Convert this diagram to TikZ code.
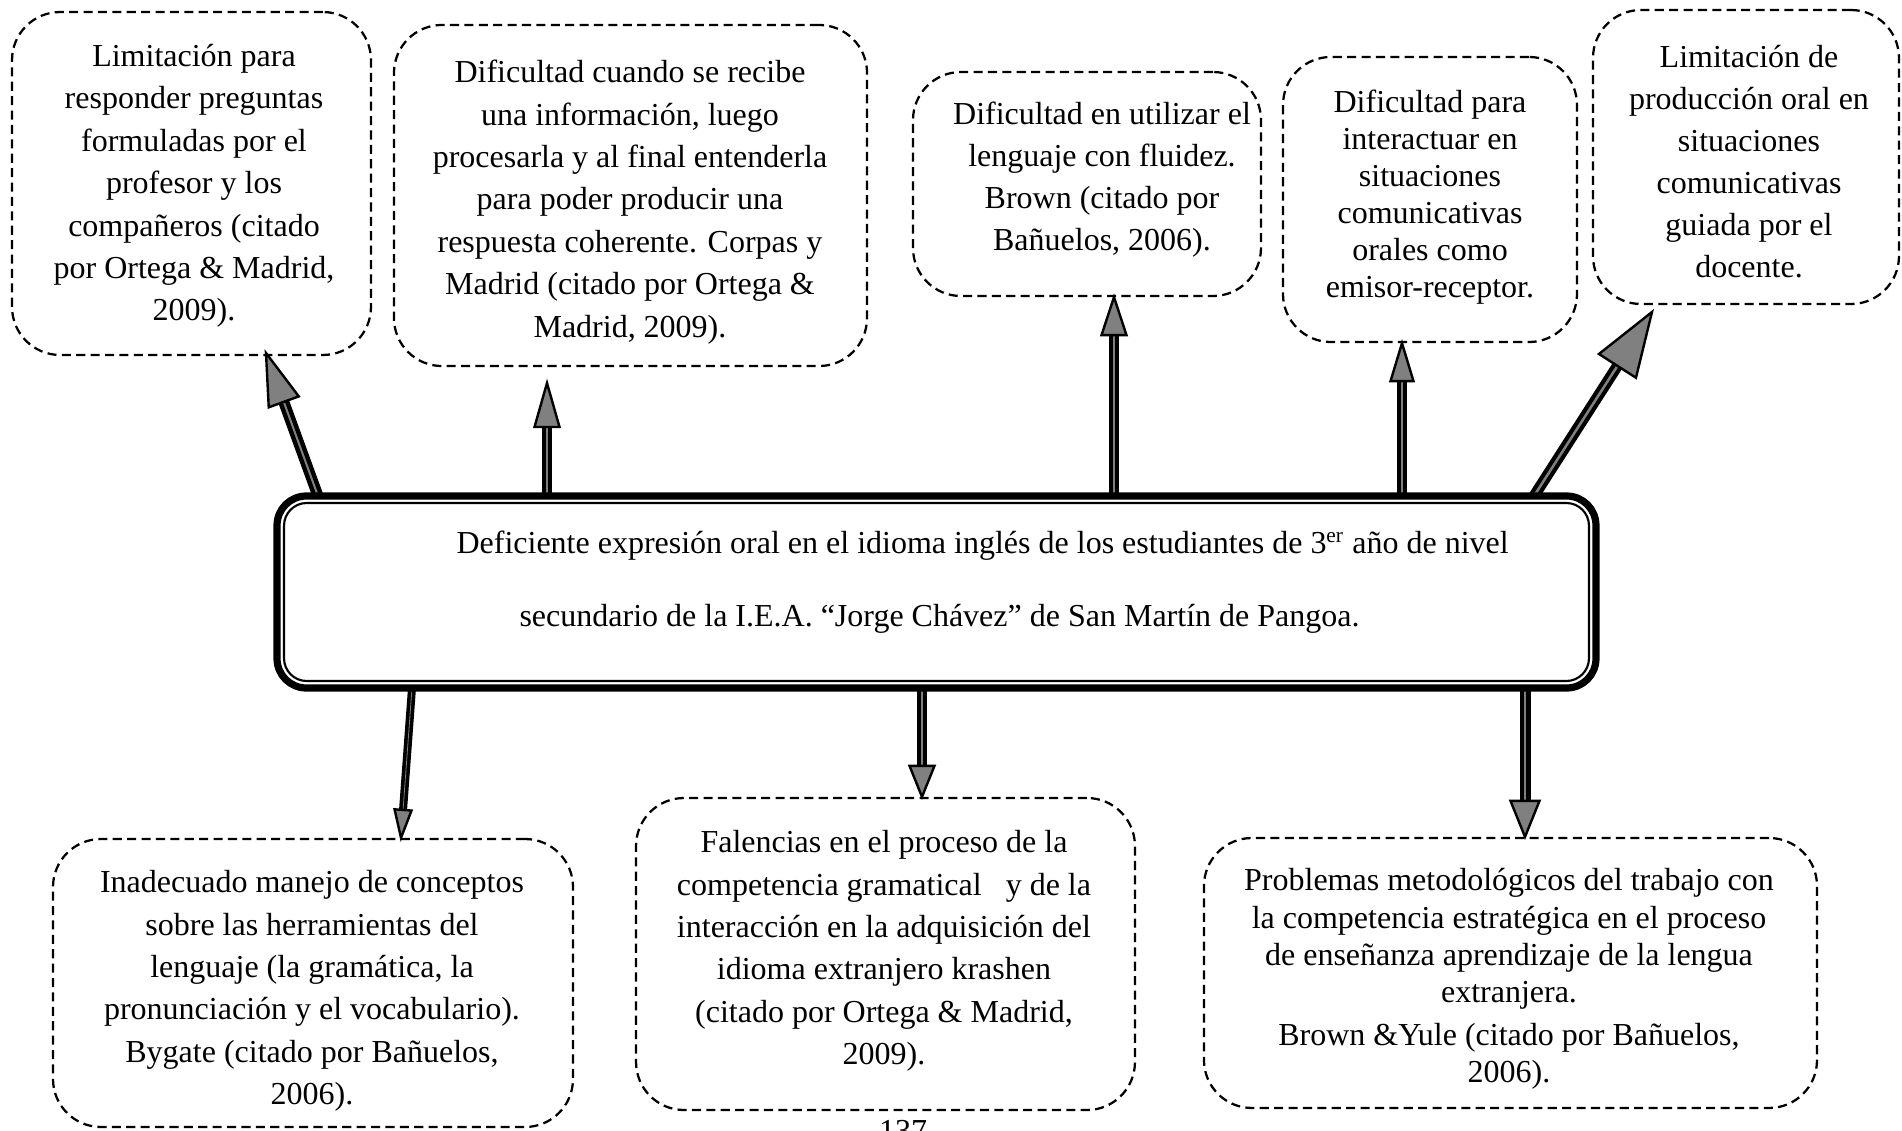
\documentclass[tikz,border=0pt]{standalone}
\usepackage{fontspec}
\setmainfont{Liberation Serif}
\usetikzlibrary{calc}
% block arrow: #1 from, #2 tip, #3 shaft width px, #4 head length px, #5 head half width px, #6 inner grey width px
\newcommand\blkarrow[6]{%
  \coordinate (hb) at ($(#2)!#4*0.375pt!(#1)$);
  \draw[line width=#3*0.375pt, black] (#1) -- (hb);
  \draw[line width=#6*0.375pt, gray] (#1) -- (hb);
  \draw[line width=0.9pt, fill=gray, line join=miter] (#2) -- ($(hb)!#5*0.375pt!90:(#2)$) -- ($(hb)!#5*0.375pt!-90:(#2)$) -- cycle;
}
\tikzset{
  dbox/.style={draw, rectangle, line width=0.85pt, dash pattern=on 3.4pt off 2pt, rounded corners=18pt, inner sep=0pt},
  txt/.style={align=center, inner sep=0pt, font=\fontsize{12}{#1}\selectfont},
  mtxt/.style={anchor=west, inner sep=0pt, font=\fontsize{12}{14}\selectfont},
}
\begin{document}
\begin{tikzpicture}[x=0.375pt, y=-0.375pt]
\useasboundingbox (0,0) rectangle (1902,1131);

% dashed boxes
\node[dbox, minimum width=134.6pt, minimum height=128.6pt] (b1) at (191.5,183.5) {};
\node[dbox, minimum width=177.4pt, minimum height=127.9pt] (b2) at (630.5,195.5) {};
\node[dbox, minimum width=130.5pt, minimum height=84pt]    (b3) at (1087,184) {};
\node[dbox, minimum width=110.25pt, minimum height=106.9pt] (b4) at (1430,199.5) {};
\node[dbox, minimum width=114.75pt, minimum height=110.25pt] (b5) at (1746,157) {};
\node[dbox, minimum width=195pt, minimum height=108pt]   (b6) at (313,983) {};
\node[dbox, minimum width=187.1pt, minimum height=117pt] (b7) at (885.5,954) {};
\node[dbox, minimum width=229.9pt, minimum height=101.25pt] (b8) at (1510.5,973) {};

% texts
\node[txt=15.9pt] (t1) at (194,186) {Limitación para\\responder preguntas\\formuladas por el\\profesor y los\\compañeros (citado\\por Ortega \& Madrid,\\2009).};
\node[txt=15.9pt] (t2) at (630,202) {Dificultad cuando se recibe\\una información, luego\\procesarla y al final entenderla\\para poder producir una\\respuesta coherente. Corpas y\\Madrid (citado por Ortega \&\\Madrid, 2009).};
\node[txt=15.75pt] (t3) at (1102,180) {Dificultad en utilizar el\\lenguaje con fluidez.\\Brown (citado por\\Bañuelos, 2006).};
\node[txt=13.9pt] (t4) at (1430,197) {Dificultad para\\interactuar en\\situaciones\\comunicativas\\orales como\\emisor-receptor.};
\node[txt=15.75pt] (t5) at (1749,162) {Limitación de\\producción oral en\\situaciones\\comunicativas\\guiada por el\\docente.};
\node[txt=15.9pt] (t6) at (312,991) {Inadecuado manejo de conceptos\\sobre las herramientas del\\lenguaje (la gramática, la\\pronunciación y el vocabulario).\\Bygate (citado por Bañuelos,\\2006).};
\node[txt=15.9pt] (t7) at (884,951) {Falencias en el proceso de la\\competencia gramatical\ \ \ y de la\\interacción en la adquisición del\\idioma extranjero krashen\\(citado por Ortega \& Madrid,\\2009).};
\node[txt=13.9pt] (t8) at (1509,979) {Problemas metodológicos del trabajo con\\la competencia estratégica en el proceso\\de enseñanza aprendizaje de la lengua\\extranjera.\\[2.3pt]Brown \&Yule (citado por Bañuelos,\\2006).};

% main box geometry (for arrow anchors)
\coordinate (mtop) at (936.5,496);
\coordinate (mbot) at (936.5,688);

% arrow ends
\coordinate (s1) at (318,496);  \coordinate (e1) at (266,353);
\coordinate (s2) at (547,0 |- mtop);  \coordinate (e2) at (547,383);
\coordinate (s3) at (1114,0 |- mtop); \coordinate (e3) at (1114,0 |- b3.south);
\coordinate (s4) at (1402,0 |- mtop); \coordinate (e4) at (1402,0 |- b4.south);
\coordinate (s5) at (1534,496); \coordinate (e5) at (1652,312);
\coordinate (s6) at (412,0 |- mbot);  \coordinate (e6) at (401,0 |- b6.north);
\coordinate (s7) at (922,0 |- mbot);  \coordinate (e7) at (922,0 |- b7.north);
\coordinate (s8) at (1525,0 |- mbot); \coordinate (e8) at (1525,0 |- b8.north);

\blkarrow{s1}{e1}{11}{52}{16}{2}
\blkarrow{s2}{e2}{10}{44}{12.5}{1.5}
\blkarrow{s3}{e3}{10}{38}{12.5}{1.5}
\blkarrow{s4}{e4}{10}{38}{11.5}{1.5}
\blkarrow{s5}{e5}{11}{64}{22}{2.5}
\blkarrow{s6}{e6}{8}{28}{8.5}{0.8}
\blkarrow{s7}{e7}{10}{31}{12.5}{1.5}
\blkarrow{s8}{e8}{11}{36}{14.5}{2}

% main box
\node[draw, rectangle, line width=2.7pt, rounded corners=11pt, minimum width=494.6pt, minimum height=72pt, fill=white, inner sep=0pt, outer sep=0pt] (main) at (936.5,592) {};
\draw[line width=0.8pt, rounded corners=8.5pt] ($(main.north west)+(7,7)$) rectangle ($(main.south east)+(-7,-7)$);
\node[mtxt] (m1) at (456,546) {Deficiente expresión oral en el idioma inglés de los estudiantes de 3\textsuperscript{er} año de nivel};
\node[mtxt] (m2) at (519,619) {secundario de la I.E.A. “Jorge Chávez” de San Martín de Pangoa.};

% page number
\node[inner sep=0pt, font=\fontsize{12}{14}\selectfont] (pg) at (903,1131) {137};
\end{tikzpicture}
\end{document}
